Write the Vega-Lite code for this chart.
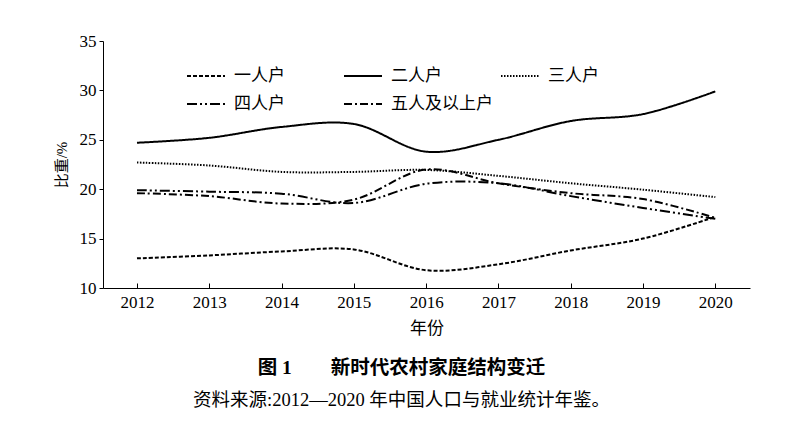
{
  "$schema": "https://vega.github.io/schema/vega-lite/v6.json",
  "width": 647,
  "height": 247,
  "autosize": {"type": "none"},
  "padding": {"left": 103, "top": 41, "right": 45, "bottom": 144},
  "background": "white",
  "config": {
    "view": {"stroke": null},
    "axis": {"labelFont": "Liberation Serif", "labelColor": "black", "domainColor": "black", "tickColor": "black", "titleColor": "black", "grid": false, "titleFont": "'Liberation Serif', 'Noto Sans CJK SC'", "titleFontWeight": "normal"}
  },
  "title": {
    "text": "图 1　　新时代农村家庭结构变迁",
    "subtitle": "资料来源:2012—2020 年中国人口与就业统计年鉴。",
    "orient": "bottom",
    "anchor": "middle",
    "font": "'Liberation Serif', 'Noto Sans CJK SC'",
    "fontSize": 19.5,
    "fontWeight": "bold",
    "color": "black",
    "subtitleFont": "'Liberation Serif', 'Noto Sans CJK SC'",
    "subtitleFontSize": 18.5,
    "subtitleColor": "black",
    "subtitlePadding": 12,
    "offset": 23,
    "dx": -25
  },
  "data": {
    "values": [
      {"year": 2012, "type": "一人户", "value": 13.0},
      {"year": 2013, "type": "一人户", "value": 13.3},
      {"year": 2014, "type": "一人户", "value": 13.7},
      {"year": 2015, "type": "一人户", "value": 13.9},
      {"year": 2016, "type": "一人户", "value": 11.8},
      {"year": 2017, "type": "一人户", "value": 12.4},
      {"year": 2018, "type": "一人户", "value": 13.8},
      {"year": 2019, "type": "一人户", "value": 15.0},
      {"year": 2020, "type": "一人户", "value": 17.2},
      {"year": 2012, "type": "二人户", "value": 24.7},
      {"year": 2013, "type": "二人户", "value": 25.2},
      {"year": 2014, "type": "二人户", "value": 26.3},
      {"year": 2015, "type": "二人户", "value": 26.6},
      {"year": 2016, "type": "二人户", "value": 23.8},
      {"year": 2017, "type": "二人户", "value": 25.0},
      {"year": 2018, "type": "二人户", "value": 26.9},
      {"year": 2019, "type": "二人户", "value": 27.6},
      {"year": 2020, "type": "二人户", "value": 29.9},
      {"year": 2012, "type": "三人户", "value": 22.7},
      {"year": 2013, "type": "三人户", "value": 22.4},
      {"year": 2014, "type": "三人户", "value": 21.75},
      {"year": 2015, "type": "三人户", "value": 21.75},
      {"year": 2016, "type": "三人户", "value": 21.95},
      {"year": 2017, "type": "三人户", "value": 21.35},
      {"year": 2018, "type": "三人户", "value": 20.6},
      {"year": 2019, "type": "三人户", "value": 19.95},
      {"year": 2020, "type": "三人户", "value": 19.2},
      {"year": 2012, "type": "四人户", "value": 19.9},
      {"year": 2013, "type": "四人户", "value": 19.75},
      {"year": 2014, "type": "四人户", "value": 19.55},
      {"year": 2015, "type": "四人户", "value": 18.6},
      {"year": 2016, "type": "四人户", "value": 20.55},
      {"year": 2017, "type": "四人户", "value": 20.6},
      {"year": 2018, "type": "四人户", "value": 19.3},
      {"year": 2019, "type": "四人户", "value": 18.1},
      {"year": 2020, "type": "四人户", "value": 17.0},
      {"year": 2012, "type": "五人及以上户", "value": 19.6},
      {"year": 2013, "type": "五人及以上户", "value": 19.3},
      {"year": 2014, "type": "五人及以上户", "value": 18.55},
      {"year": 2015, "type": "五人及以上户", "value": 18.95},
      {"year": 2016, "type": "五人及以上户", "value": 22.0},
      {"year": 2017, "type": "五人及以上户", "value": 20.6},
      {"year": 2018, "type": "五人及以上户", "value": 19.6},
      {"year": 2019, "type": "五人及以上户", "value": 19.0},
      {"year": 2020, "type": "五人及以上户", "value": 17.1}
    ]
  },
  "mark": {"type": "line", "interpolate": "catmull-rom", "color": "black", "strokeWidth": 2},
  "encoding": {
    "x": {
      "field": "year",
      "type": "quantitative",
      "scale": {"domain": [2011.53, 2020.48], "nice": false, "zero": false},
      "axis": {"values": [2012, 2013, 2014, 2015, 2016, 2017, 2018, 2019, 2020], "format": "d", "title": "年份", "tickSize": -5, "labelPadding": 11, "labelFontSize": 17, "titleFontSize": 17, "titlePadding": 10}
    },
    "y": {
      "field": "value",
      "type": "quantitative",
      "scale": {"domain": [10, 35], "nice": false, "zero": false},
      "axis": {"values": [10, 15, 20, 25, 30, 35], "title": "比重/%", "tickSize": 4, "labelPadding": 3, "labelFontSize": 17, "titleFontSize": 15, "titlePadding": 10}
    },
    "strokeDash": {
      "field": "type",
      "type": "nominal",
      "scale": {
        "domain": ["一人户", "二人户", "三人户", "四人户", "五人及以上户"],
        "range": [[4, 2], [1, 0], [1.5, 1.5], [10, 3, 2, 3, 2, 3], [8, 3, 2, 3]]
      },
      "legend": {
        "orient": "none",
        "legendX": 83,
        "legendY": 15,
        "direction": "horizontal",
        "columns": 3,
        "gridAlign": "all",
        "title": null,
        "padding": 0,
        "symbolType": "stroke",
        "symbolSize": 1444,
        "symbolStrokeWidth": 2,
        "symbolStrokeColor": "black",
        "labelFont": "Noto Sans CJK SC",
        "labelFontSize": 17,
        "labelColor": "black",
        "labelOffset": 8,
        "columnPadding": 4,
        "rowPadding": -17
      }
    }
  }
}
